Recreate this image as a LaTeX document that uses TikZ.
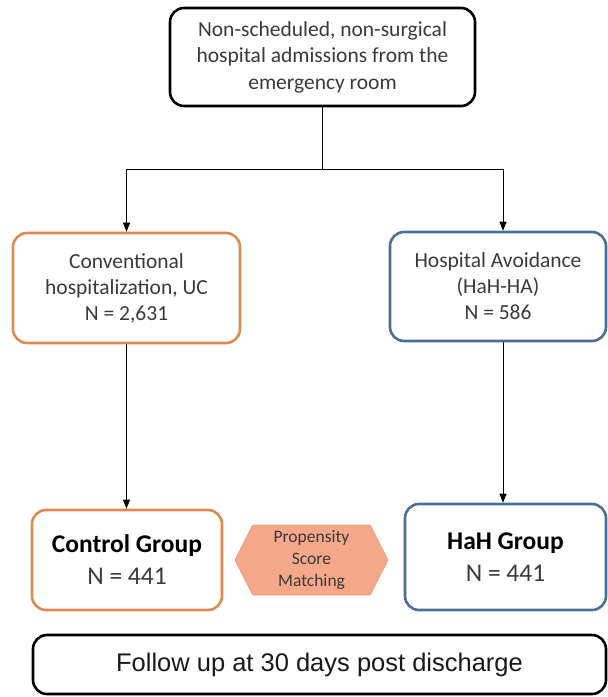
\documentclass[tikz,border=0pt]{standalone}
\usepackage{fontspec}
\setmainfont{Carlito}
\newfontfamily\arialf{Liberation Sans}
\usetikzlibrary{arrows.meta,shapes.symbols}
\definecolor{orangeb}{HTML}{DD8A50}
\definecolor{blueb}{HTML}{4A6F95}
\definecolor{hexfill}{HTML}{F5A98A}
\definecolor{hexdraw}{HTML}{EC9B78}
\definecolor{txt}{HTML}{3A3A3A}
\begin{document}
\begin{tikzpicture}[x=1pt,y=-1pt,
  box/.style={draw,rounded corners=14pt,line width=2.6pt,align=center,inner sep=0pt,text=txt},
  blackbox/.style={box,draw=black},
  orangebox/.style={box,draw=orangeb},
  bluebox/.style={box,draw=blueb},
  conn/.style={line width=0.9pt,draw=black},
  arr/.style={conn,-{Triangle[length=9pt,width=7pt]}},
  hexbox/.style={signal,signal to=east and west,signal pointer angle=126,fill=hexfill,draw=hexdraw,line width=0.8pt,align=center,inner sep=0pt,text=txt,font=\fontsize{17.5}{22}\selectfont}
]
\useasboundingbox (0,0) rectangle (608,697);
\node[blackbox,minimum width=305pt,minimum height=98pt,font=\fontsize{21.5}{26.5}\selectfont] (top) at (322.5,57)
  {Non-scheduled, non-surgical\\hospital admissions from the\\emergency room};
\node[orangebox,minimum width=227pt,minimum height=110pt,font=\fontsize{21.5}{26}\selectfont] (uc) at (126.5,288)
  {Conventional\\hospitalization, UC\\N = 2,631};
\node[bluebox,minimum width=216pt,minimum height=109pt,font=\fontsize{21.5}{26}\selectfont] (ha) at (498,286.5)
  {Hospital Avoidance\\(HaH-HA)\\N = 586};
\node[orangebox,minimum width=190pt,minimum height=100pt,font=\fontsize{25.5}{32}\selectfont] (cg) at (127,560)
  {{\bfseries\color{black}Control Group}\\N = 441};
\node[bluebox,minimum width=201pt,minimum height=106pt,font=\fontsize{25.5}{32}\selectfont] (hg) at (505.5,557)
  {{\bfseries\color{black}HaH Group}\\N = 441};
\node[hexbox,minimum width=153pt,minimum height=70pt] (psm) at (311.5,560)
  {Propensity\\Score\\Matching};
\node[blackbox,minimum width=573pt,minimum height=59pt,font=\arialf\fontsize{25.5}{28}\selectfont,text=black!90] (fu) at (319.5,664.5)
  {Follow up at 30 days post discharge};
\path (top.south) ++(0,62) coordinate (split);
\coordinate (haN) at ([xshift=5pt]ha.north);
\coordinate (haS) at ([xshift=5pt]ha.south);
\draw[conn] (top.south) -- (split);
\draw[arr] (split) -| (uc.north);
\draw[arr] (split) -| (haN);
\draw[arr] (uc.south) -- (cg.north -| uc.south);
\draw[arr] (haS) -- (hg.north -| haS);
\end{tikzpicture}
\end{document}
